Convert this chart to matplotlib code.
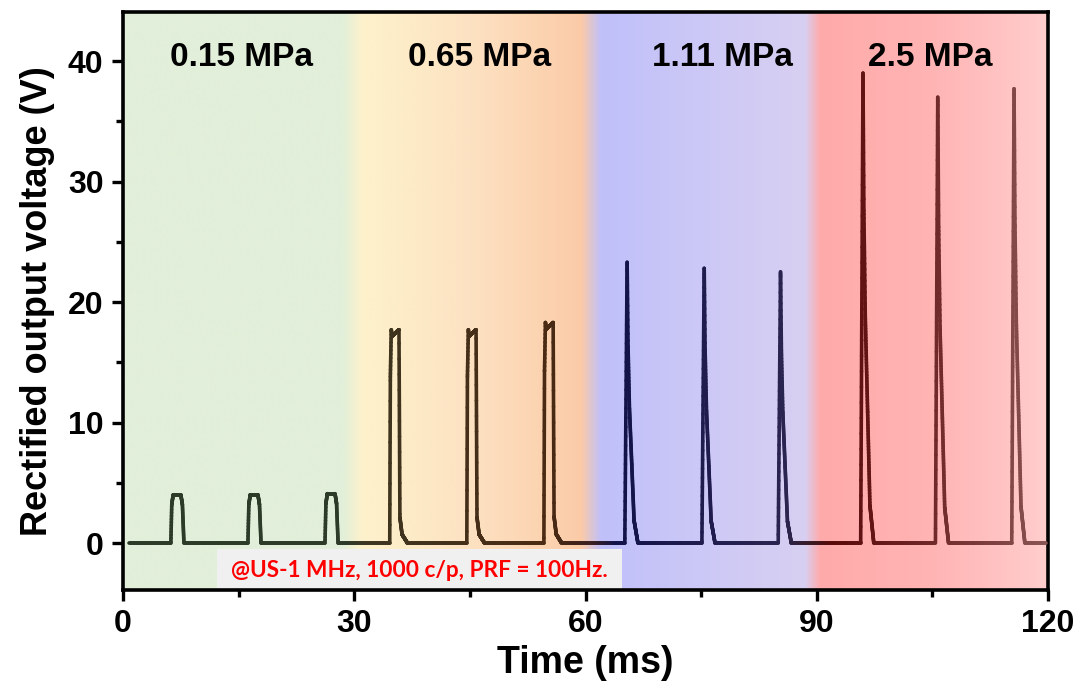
import numpy as np
import matplotlib
matplotlib.use("Agg")
import matplotlib.pyplot as plt
from matplotlib.collections import LineCollection
from matplotlib.colors import to_rgb

plt.rcParams['font.family'] = ['Liberation Sans', 'DejaVu Sans']

# pulse data: start time (ms), peak voltage (V), shape name
pulse_start = [6.2, 16.2, 26.2, 34.6, 44.6, 54.6, 65.1, 75.1, 85.0, 95.7, 105.4, 115.3]
pulse_peak = [4.0, 4.0, 4.1, 17.7, 17.7, 18.3, 23.3, 22.8, 22.5, 39.0, 37.0, 37.7]
pulse_shape = ["flat", "flat", "flat", "step", "step", "step",
               "spike", "spike", "spike", "spike", "spike", "spike"]

# pulse templates: time offset (ms) and fraction of peak
shape_dt = {
    "flat": [0.0, 0.12, 0.3, 1.3, 1.5, 1.7],
    "step": [0.0, 0.08, 0.2, 0.3, 1.2, 1.32, 1.6, 2.3],
    "spike": [0.0, 0.3, 0.42, 0.6, 0.9, 1.2, 1.7],
}
shape_frac = {
    "flat": [0.0, 0.8, 1.0, 1.0, 0.8, 0.0],
    "step": [0.0, 0.78, 1.0, 0.97, 1.0, 0.12, 0.04, 0.0],
    "spike": [0.0, 1.0, 0.7, 0.48, 0.28, 0.08, 0.0],
}

trace_start, trace_end = 0.8, 119.8

# region labels
region_labels = ["0.15 MPa", "0.65 MPa", "1.11 MPa", "2.5 MPa"]
region_label_x = [15.4, 46.3, 77.7, 104.7]

# background colour knots (ms, colour)
bg_x = [0, 28.5, 31, 45, 59.5, 62, 88.5, 90.5, 105, 120]
bg_c = ["#e2efda", "#e2efda", "#fdf2cc", "#fde2c2", "#fbcba8", "#c0c0fa",
        "#d8d0f2", "#ffaaaa", "#ffb4b4", "#ffcdcd"]

# trace colour knots (ms, colour)
ln_x = [0, 29, 32, 55, 61, 64, 86, 89.5, 92, 105, 120]
ln_c = ["#2c3a28", "#2c3a28", "#3e3520", "#4a2a12", "#3a2020", "#12124a",
        "#2a2450", "#3a1a20", "#5a0808", "#702828", "#8a5555"]

ymin, ymax = -3.9, 44.07


def build_trace():
    t = [trace_start]
    v = [0.0]
    for t0, vp, s in zip(pulse_start, pulse_peak, pulse_shape):
        for dt, f in zip(shape_dt[s], shape_frac[s]):
            t.append(t0 + dt)
            v.append(vp * f)
    t.append(trace_end)
    v.append(0.0)
    return np.array(t), np.array(v)


def knot_colors(x, xs, cs):
    rgb = np.array([to_rgb(c) for c in cs])
    return np.stack([np.interp(x, xs, rgb[:, k]) for k in range(3)], axis=-1)


fig = plt.figure(figsize=(10.87, 6.98), dpi=100)
ax = fig.add_axes([0.1132, 0.1547, 0.8509, 0.8281])

# gradient background
gx = np.linspace(0, 120, 1200)
bg = knot_colors(gx, bg_x, bg_c)[np.newaxis, :, :]
ax.imshow(bg, extent=[0, 120, ymin, ymax], aspect='auto', zorder=0,
          interpolation='bilinear')

# info box
ax.fill_between([12.2, 64.7], ymin, -0.5, color="#f0f0f0", zorder=1, lw=0)
ax.text(38.4, -2.25, "@US-1 MHz, 1000 c/p, PRF = 100Hz.", color="#ff0000",
        fontsize=16.3, fontweight='bold', family=['Lato', 'DejaVu Sans'],
        ha='center', va='center', zorder=2)

# voltage trace
t, v = build_trace()
tt = np.linspace(trace_start, trace_end, 12000)
tt = np.unique(np.concatenate([tt, t]))
vv = np.interp(tt, t, v)
pts = np.column_stack([tt, vv]).reshape(-1, 1, 2)
segs = np.concatenate([pts[:-1], pts[1:]], axis=1)
cols = knot_colors(0.5 * (tt[:-1] + tt[1:]), ln_x, ln_c)
lc = LineCollection(segs, colors=cols, linewidths=2.6, zorder=3,
                    capstyle='round', joinstyle='round')
ax.add_collection(lc)

for lab, x in zip(region_labels, region_label_x):
    ax.text(x, 40.3, lab, fontsize=24, fontweight='bold', ha='center',
            va='center', zorder=4)

ax.set_xlim(0, 120)
ax.set_ylim(ymin, ymax)
ax.set_xticks([0, 30, 60, 90, 120])
ax.set_xticks([15, 45, 75, 105], minor=True)
ax.set_yticks([0, 10, 20, 30, 40])
ax.set_yticks([5, 15, 25, 35], minor=True)
ax.tick_params(which='major', length=8, width=2.4, labelsize=23, pad=6)
ax.tick_params(which='minor', length=5, width=2.4)
for lab in ax.get_xticklabels() + ax.get_yticklabels():
    lab.set_fontweight('bold')
for sp in ax.spines.values():
    sp.set_linewidth(2.6)

ax.set_xlabel("Time (ms)", fontsize=27, fontweight='bold', labelpad=4)
ax.set_ylabel("Rectified output voltage (V)", fontsize=26, fontweight='bold',
              labelpad=9)

fig.savefig("out.png", dpi=100)
